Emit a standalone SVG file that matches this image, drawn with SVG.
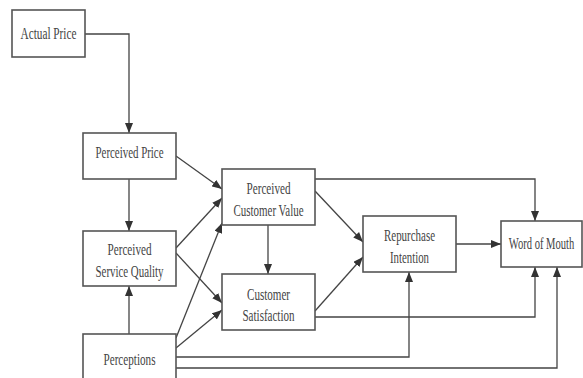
<svg xmlns="http://www.w3.org/2000/svg" width="583" height="378" viewBox="0 0 583 378">
<style>
.box{fill:#fff;stroke:#555;stroke-width:1.6}
.t{font-family:"Liberation Serif","Times New Roman",serif;font-size:16px;fill:#444;text-anchor:middle}
.c{fill:none;stroke:#444;stroke-width:1.3}
</style>
<defs>
<marker id="ah" markerUnits="userSpaceOnUse" markerWidth="10" markerHeight="8" viewBox="0 0 10 8" refX="10" refY="4" orient="auto">
<path d="M0,0 L10,4 L0,8 z" fill="#333"/>
</marker>
</defs>
<rect width="583" height="378" fill="#fff"/>
<g id="connectors">
<path class="c" marker-end="url(#ah)" d="M85,34 H129 V133"/>
<path class="c" marker-end="url(#ah)" d="M129,179 V231"/>
<path class="c" marker-end="url(#ah)" d="M129,334 V286"/>
<path class="c" marker-end="url(#ah)" d="M176,156 L222,189"/>
<path class="c" marker-end="url(#ah)" d="M176,248 L222,198"/>
<path class="c" marker-end="url(#ah)" d="M176,253 L222,303"/>
<path class="c" marker-end="url(#ah)" d="M176,338 L222,223"/>
<path class="c" marker-end="url(#ah)" d="M176,348 L222,310"/>
<path class="c" marker-end="url(#ah)" d="M268,225 V274"/>
<path class="c" marker-end="url(#ah)" d="M315,179 H535 V221"/>
<path class="c" marker-end="url(#ah)" d="M315,191 L363,242"/>
<path class="c" marker-end="url(#ah)" d="M315,311 L363,257"/>
<path class="c" marker-end="url(#ah)" d="M315,317 H535 V267"/>
<path class="c" marker-end="url(#ah)" d="M456,244 H501"/>
<path class="c" marker-end="url(#ah)" d="M176,357 H409 V272"/>
<path class="c" marker-end="url(#ah)" d="M176,368 H557 V267"/>
</g>
<g id="actual-price">
<rect class="box" x="12" y="10" width="73" height="47"/>
<text class="t" x="48.5" y="39" textLength="56" lengthAdjust="spacingAndGlyphs">Actual Price</text>
</g>
<g id="perceived-price">
<rect class="box" x="83" y="133" width="93" height="46"/>
<text class="t" x="129.5" y="158" textLength="68" lengthAdjust="spacingAndGlyphs">Perceived Price</text>
</g>
<g id="perceived-service-quality">
<rect class="box" x="83" y="231" width="93" height="55"/>
<text class="t" x="129.5" y="255" textLength="44" lengthAdjust="spacingAndGlyphs">Perceived</text>
<text class="t" x="129.5" y="277" textLength="68" lengthAdjust="spacingAndGlyphs">Service Quality</text>
</g>
<g id="perceptions">
<rect class="box" x="83" y="334" width="93" height="48"/>
<text class="t" x="129.5" y="365" textLength="52" lengthAdjust="spacingAndGlyphs">Perceptions</text>
</g>
<g id="perceived-customer-value">
<rect class="box" x="222" y="169" width="93" height="56"/>
<text class="t" x="268.5" y="194" textLength="44" lengthAdjust="spacingAndGlyphs">Perceived</text>
<text class="t" x="268.5" y="216" textLength="70" lengthAdjust="spacingAndGlyphs">Customer Value</text>
</g>
<g id="customer-satisfaction">
<rect class="box" x="222" y="274" width="93" height="56"/>
<text class="t" x="268.5" y="300" textLength="43" lengthAdjust="spacingAndGlyphs">Customer</text>
<text class="t" x="268.5" y="321" textLength="52" lengthAdjust="spacingAndGlyphs">Satisfaction</text>
</g>
<g id="repurchase-intention">
<rect class="box" x="363" y="216" width="93" height="56"/>
<text class="t" x="409.5" y="241" textLength="51" lengthAdjust="spacingAndGlyphs">Repurchase</text>
<text class="t" x="409.5" y="263" textLength="39" lengthAdjust="spacingAndGlyphs">Intention</text>
</g>
<g id="word-of-mouth">
<rect class="box" x="501" y="221" width="81" height="46"/>
<text class="t" transform="translate(541.5,249) scale(0.66,1)" x="0" y="0">Word of Mouth</text>
</g>
</svg>
